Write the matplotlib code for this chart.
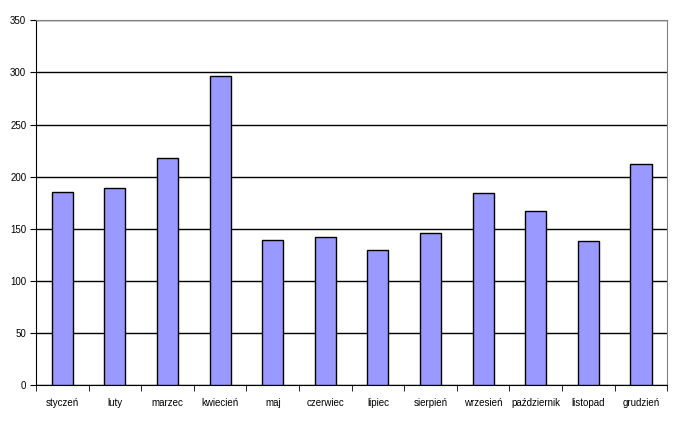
import matplotlib
matplotlib.use('Agg')
import matplotlib.pyplot as plt
import numpy as np

plt.rcParams['font.family'] = ['Liberation Sans', 'DejaVu Sans']

# Monthly values
months = ['styczeń', 'luty', 'marzec', 'kwiecień', 'maj', 'czerwiec',
          'lipiec', 'sierpień', 'wrzesień', 'październik', 'listopad', 'grudzień']
values = [185, 189, 218, 297, 139, 142, 130, 146, 184, 167, 138, 212]
y_ticks = [0, 50, 100, 150, 200, 250, 300, 350]

fig = plt.figure(figsize=(6.78, 4.21), dpi=100)
ax = fig.add_axes([0.0531, 0.0848, 0.9311, 0.867])

x = np.arange(len(months))
ax.bar(x, values, width=0.4, color='#9999FF', edgecolor='black', linewidth=1, zorder=3)

ax.set_xlim(-0.5, len(months) - 0.5)
ax.set_ylim(0, 350)
ax.set_yticks(y_ticks)
ax.yaxis.grid(True, color='black', linewidth=1, zorder=0)

ax.set_xticks(x)
ax.set_xticklabels(months, fontsize=7)
ax.set_xticks(np.arange(len(months) + 1) - 0.5, minor=True)
ax.tick_params(axis='x', which='major', length=0, pad=9)
ax.tick_params(axis='x', which='minor', length=4, direction='out', color='black')
ax.tick_params(axis='y', length=4, direction='out', labelsize=7, pad=3)

for side in ['top', 'right']:
    ax.spines[side].set_color('#808080')
for side in ['left', 'bottom']:
    ax.spines[side].set_color('black')

fig.savefig('out.png', dpi=100)
